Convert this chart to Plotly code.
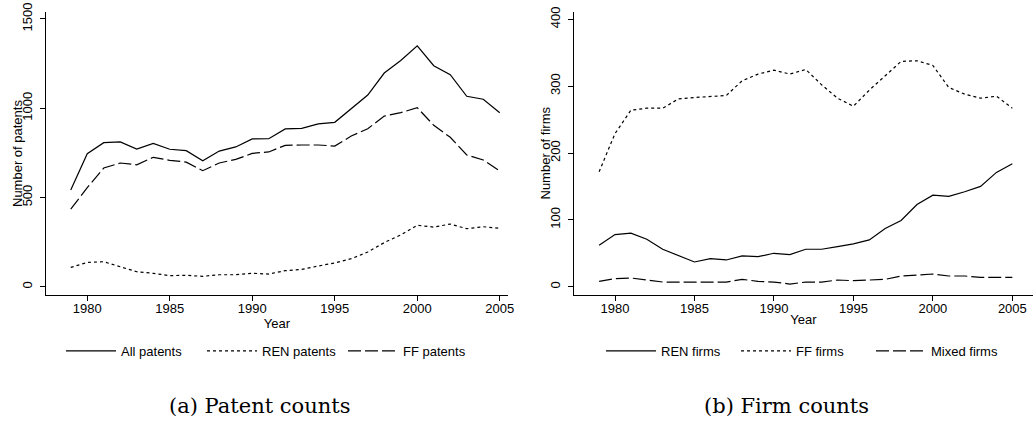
import plotly.graph_objects as go

years = list(range(1979, 2006))

all_patents = [542, 745, 807, 811, 771, 803, 770, 762, 706, 760, 783, 828,
               829, 884, 887, 912, 921, 996, 1074, 1197, 1267, 1349, 1238,
               1188, 1067, 1050, 975]
ren_patents = [108, 136, 140, 112, 84, 75, 62, 64, 58, 67, 67, 75,
               71, 90, 97, 116, 133, 157, 194, 247, 290, 344, 334,
               351, 325, 336, 327]
ff_patents = [435, 555, 665, 693, 683, 725, 708, 698, 650, 693, 713, 747,
              755, 792, 794, 794, 788, 844, 885, 956, 975, 1003, 904,
              837, 738, 710, 648]

ren_firms = [62, 78, 80, 71, 56, 47, 37, 42, 40, 46, 45, 50,
             48, 56, 56, 60, 64, 70, 87, 99, 123, 137, 135,
             142, 150, 171, 184]
ff_firms = [172, 229, 264, 267, 267, 281, 283, 284, 286, 308, 318, 324,
            318, 325, 302, 282, 270, 294, 315, 337, 338, 331, 298,
            288, 282, 285, 267]
mixed_firms = [8, 12, 13, 10, 7, 7, 7, 7, 7, 11, 8, 7,
               4, 7, 7, 10, 9, 10, 11, 16, 17, 19, 16,
               16, 14, 14, 14]

x_ticks = [1980, 1985, 1990, 1995, 2000, 2005]
y1_ticks = [0, 500, 1000, 1500]
y2_ticks = [0, 100, 200, 300, 400]

# the page's body margin is removed after drawing, so page px == figure px
PW, PH = 1033, 421


def fx(p):
    return p / PW


def fy(p):
    return 1 - p / PH


FONT = "Liberation Sans, Arial, sans-serif"
LW = 1.2
SOLID = "solid"
SHORT = "3px,3px"
LONG = "13px,4px"

fig = go.Figure()


def add(x, y, name, dash, xa, ya, leg):
    fig.add_trace(go.Scatter(x=x, y=y, name=name, mode="lines",
                             line=dict(color="black", width=LW, dash=dash),
                             xaxis=xa, yaxis=ya, legend=leg))


add(years, all_patents, "All patents", SOLID, "x", "y", "legend")
add(years, ren_patents, "REN patents", SHORT, "x", "y", "legend")
add(years, ff_patents, "FF patents", LONG, "x", "y", "legend")
add(years, ren_firms, "REN firms", SOLID, "x2", "y2", "legend2")
add(years, ff_firms, "FF firms", SHORT, "x2", "y2", "legend2")
add(years, mixed_firms, "Mixed firms", LONG, "x2", "y2", "legend2")

ybot = fy(295)
ytop = fy(12)

tfont = dict(family=FONT, size=13, color="black")
axis_common = dict(showline=True, linecolor="black", linewidth=1,
                   ticks="outside", ticklen=5, tickcolor="black", tickwidth=1,
                   showgrid=False, zeroline=False, automargin=False,
                   ticklabeloverflow="allow", tickfont=tfont)

fig.update_layout(
    width=PW, height=PH,
    margin=dict(l=0, r=0, t=0, b=0),
    paper_bgcolor="white", plot_bgcolor="white",
    font=tfont,
    xaxis=dict(domain=[fx(46), fx(508)], range=[1977.5, 2005.5],
               tickvals=x_ticks, anchor="y",
               title=dict(text="Year", standoff=0, font=tfont),
               **axis_common),
    yaxis=dict(domain=[ybot, ytop], range=[-46.5, 1539],
               tickvals=y1_ticks, tickangle=-90, anchor="x",
               **axis_common),
    xaxis2=dict(domain=[fx(574), 1.0], range=[1977.42, 2006.3],
                tickvals=x_ticks, anchor="y2",
                title=dict(text="Year", standoff=0, font=tfont),
                **axis_common),
    yaxis2=dict(domain=[ybot, ytop], range=[-12.4, 410.9],
                tickvals=y2_ticks, tickangle=-90, anchor="x2",
                **axis_common),
    legend=dict(orientation="h", x=fx(61), xanchor="left",
                y=fy(351), yanchor="middle", itemwidth=50,
                entrywidth=76, entrywidthmode="pixels",
                bgcolor="rgba(0,0,0,0)", font=tfont),
    legend2=dict(orientation="h", x=fx(601), xanchor="left",
                 y=fy(351), yanchor="middle", itemwidth=50,
                 entrywidth=70, entrywidthmode="pixels",
                 bgcolor="rgba(0,0,0,0)", font=tfont),
    showlegend=True,
)

# tick-label distances from the axes
try:
    fig.update_xaxes(ticklabelstandoff=-4)
except Exception:
    pass
try:
    fig.update_yaxes(ticklabelstandoff=3)
except Exception:
    pass

# y-axis titles
ymid = fy((12 + 295) / 2)
fig.add_annotation(text="Number of patents", xref="paper", yref="paper",
                   x=fx(17.5), y=ymid, xanchor="center", yanchor="middle",
                   textangle=-90, showarrow=False, font=tfont)
fig.add_annotation(text="Number of firms", xref="paper", yref="paper",
                   x=fx(545), y=ymid, xanchor="center", yanchor="middle",
                   textangle=-90, showarrow=False, font=tfont)

CAP_FONT = dict(family="DejaVu Serif, Liberation Serif, serif", size=21, color="black")
fig.add_annotation(text="(a) Patent counts", xref="paper", yref="paper",
                   x=fx(259), y=fy(406), xanchor="center", yanchor="middle",
                   showarrow=False, font=CAP_FONT)
fig.add_annotation(text="(b) Firm counts", xref="paper", yref="paper",
                   x=fx(786), y=fy(406), xanchor="center", yanchor="middle",
                   showarrow=False, font=CAP_FONT)

fig.write_html("out.html",
               config={"displayModeBar": False},
               post_script="document.body.style.margin='0px';"
                           "document.body.style.overflow='hidden';")
